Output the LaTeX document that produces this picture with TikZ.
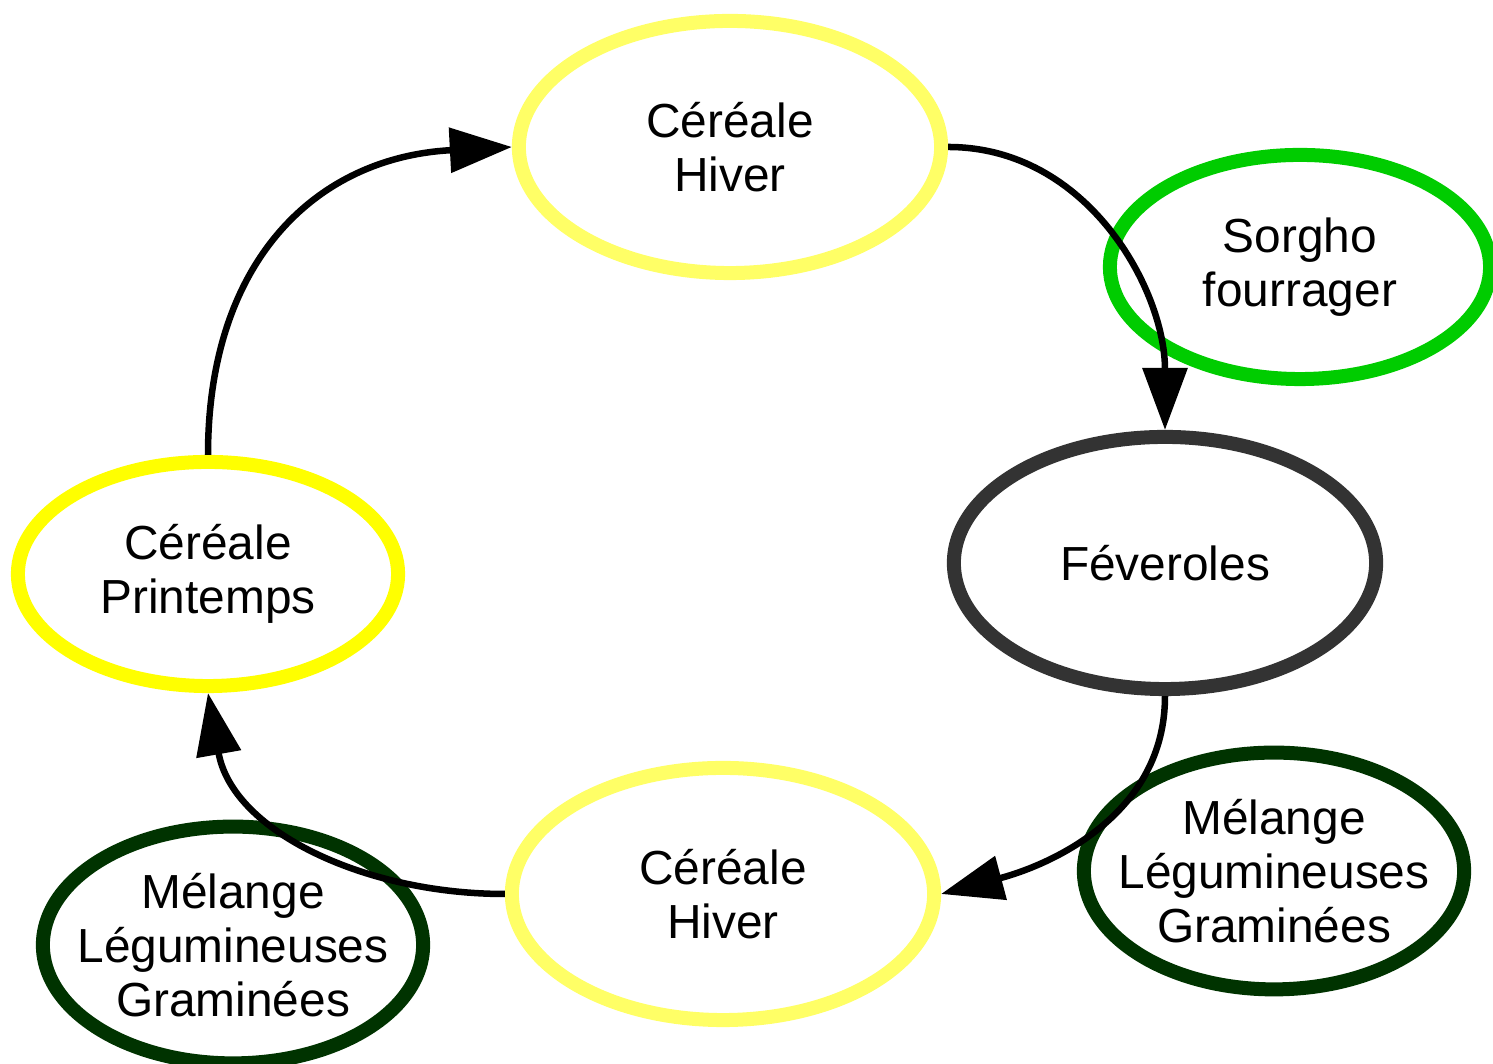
\documentclass[tikz,border=0pt]{standalone}
\usepackage{fontspec}
\setmainfont{Liberation Sans}
\usetikzlibrary{shapes.geometric,arrows.meta}
\definecolor{jauneclair}{HTML}{FFFF66}
\definecolor{jaune}{HTML}{FFFF00}
\definecolor{vert}{HTML}{00CC00}
\definecolor{vertfonce}{HTML}{003300}
\definecolor{grisfonce}{HTML}{333333}
\tikzset{
	culture/.style={ellipse, line width=0.14cm, align=center, font=\fontsize{13.6pt}{15.4pt}\selectfont},
	grande/.style={culture, minimum width=4.22cm, minimum height=2.52cm},
	petite/.style={culture, minimum width=3.8cm, minimum height=2.24cm, inner xsep=-3mm},
	fleche/.style={line width=0.065cm, -{Triangle[length=0.62cm, width=0.44cm]}}
}

\begin{document}
\begin{tikzpicture}[x=0.01cm, y=0.01cm]
			%%%%% START %%%%%
			
			\useasboundingbox (0, 0) rectangle (1493, 1064);
			
			\node[grande, draw=jauneclair] (hiverH) at (730, 917) {Céréale\\Hiver};
			\node[petite, draw=vert] (sorgho) at (1300, 797) {Sorgho\\fourrager};
			\node[grande, draw=grisfonce] (feveroles) at (1165, 501) {Féveroles};
			
			\node[petite, draw=vertfonce] (melangeD) at (1274, 193) {Mélange\\Légumineuses\\Graminées};
			\node[grande, draw=jauneclair] (hiverB) at (723, 170) {Céréale\\Hiver};
			\node[petite, draw=vertfonce] (melangeG) at (233, 119) {Mélange\\Légumineuses\\Graminées};
			
			\node[petite, draw=jaune] (printemps) at (208, 490) {Céréale\\Printemps};
			
			\draw[fleche] (printemps.north) to[out=90, in=183, looseness=1.15] (hiverH.west);
			\draw[fleche] (hiverH.east) to[out=0, in=90] (feveroles.north);
			\draw[fleche] (feveroles.south) to[out=-90, in=15] (hiverB.east);
			\draw[fleche] (hiverB.west) to[out=180, in=-80] (printemps.south);
			
			%%%%% END %%%%%
\end{tikzpicture}
\end{document}
